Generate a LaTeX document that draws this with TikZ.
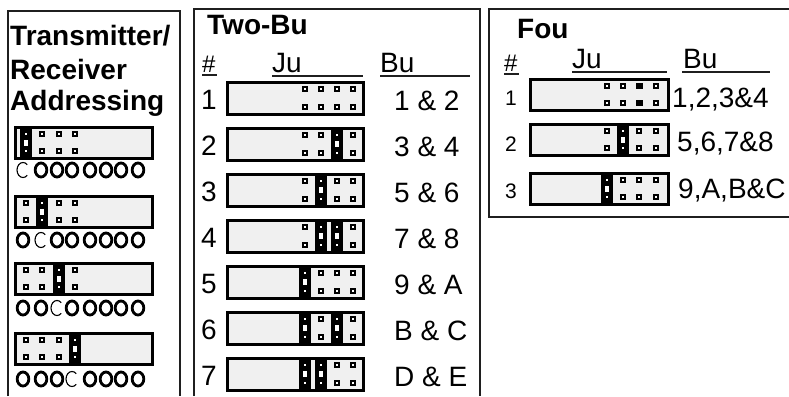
\documentclass[tikz,border=0pt]{standalone}
\usepackage{fontspec}
\setmainfont{Liberation Sans}
\tikzset{
  panel/.style={line width=2pt, draw=black!88},
  jfill/.style={fill=black!6},
  jframe/.style={draw=black, line width=3pt},
  uline/.style={line width=2pt, draw=black!88},
  led/.style={line width=2.8pt},
  ledoff/.style={line width=1.1pt},
  big/.style={font=\fontsize{28}{32}\selectfont, inner sep=0pt, anchor=base west},
  bigb/.style={font=\bfseries\fontsize{28}{32}\selectfont, inner sep=0pt, anchor=base west},
  mid/.style={font=\fontsize{24}{28}\selectfont, inner sep=0pt, anchor=base west},
  small/.style={font=\fontsize{21}{25}\selectfont, inner sep=0pt, anchor=base west},
}
% pin: black square with white centre
\newcommand{\jpin}[2]{\fill[black] (#1-3,#2-3) rectangle (#1+3,#2+3);
  \fill[white] (#1-1,#2-1) rectangle (#1+1,#2+1);}
\newcommand{\jfpin}[2]{\fill[black] (#1-3.5,#2-3) rectangle (#1+3.5,#2+3);}
% shunt bar: x centre, block top, block bottom
\newcommand{\jbar}[3]{\fill[black] (#1-6,#2) rectangle (#1+6,#3);
  \fill[white] (#1-1.2,#2+5.8) rectangle (#1+1.2,#2+8.2);
  \fill[white] (#1-1.2,#3-8.2) rectangle (#1+1.2,#3-5.8);
  \fill[white] ({#1-2},{(#2+#3)/2-3}) rectangle ({#1+2},{(#2+#3)/2+3});}
% slot: flag (0 pins, 1 bar, 2 filled pins), x, top, bottom
\newcommand{\jslot}[4]{\ifnum#1=1 \jbar{#2}{#3}{#4}\else\ifnum#1=2 \jfpin{#2}{#3+7}\jfpin{#2}{#4-7}\else\jpin{#2}{#3+7}\jpin{#2}{#4-7}\fi\fi}
% Two-Bu row
\newcommand{\tbrow}[5]{\fill[jfill] (227,#1) rectangle (363,#1+32);
  \jslot{#2}{305}{#1}{#1+32}\jslot{#3}{321}{#1}{#1+32}\jslot{#4}{337}{#1}{#1+32}\jslot{#5}{353}{#1}{#1+32}
  \draw[jframe] (227,#1) rectangle (363,#1+32);
  \draw[line width=1.5pt] (227,#1+33) -- (363,#1+33);}
% Fou row
\newcommand{\forow}[5]{\fill[jfill] (530,#1) rectangle (668,#1+31);
  \jslot{#2}{607}{#1}{#1+31}\jslot{#3}{623}{#1}{#1+31}\jslot{#4}{639}{#1}{#1+31}\jslot{#5}{656}{#1}{#1+31}
  \draw[jframe] (530,#1) rectangle (668,#1+31);}
% Left row
\newcommand{\lrow}[5]{\fill[jfill] (15,#1) rectangle (152,#1+31);
  \jslot{#2}{26}{#1}{#1+31}\jslot{#3}{42}{#1}{#1+31}\jslot{#4}{59}{#1}{#1+31}\jslot{#5}{75}{#1}{#1+31}
  \draw[jframe] (15,#1) rectangle (152,#1+31);}
% LED row: y centre, index of the dim one
\newcommand{\leds}[2]{\foreach \lx [count=\li] in {23,41,57,72,90,106,121,138}{
    \ifnum\li=#2
      \draw[ledoff] (\lx,#1) ++(45:6 and 7.5) arc[start angle=45,end angle=315,x radius=6,y radius=7.5];
    \else
      \draw[led] (\lx,#1) ellipse [x radius=5.8, y radius=7];
    \fi}}
\begin{document}
\begin{tikzpicture}[x=1pt,y=-1pt]
\useasboundingbox (0,0) rectangle (789,396);
% panels
\draw[panel] (8,396) -- (8,11) -- (180,11) -- (180,396);
\draw[panel] (194,396) -- (194,9) -- (480,9) -- (480,396);
\draw[panel] (789,9) -- (489,9) -- (489,217) -- (789,217);

% left panel
\node[bigb] (t1) at (10,46) {Transmitter/};
\node[bigb] (t2) at (10,79) {Receiver};
\node[bigb] (t3) at (10,110) {Addressing};
\lrow{127}{1}{0}{0}{0}
\leds{170}{1}
\lrow{196}{0}{1}{0}{0}
\leds{240}{2}
\lrow{263}{0}{0}{1}{0}
\leds{308}{3}
\lrow{333}{0}{0}{0}{1}
\leds{379}{4}

% Two-Bu panel
\node[bigb] (twot) at (207,35) {Two-Bu};
\node[mid] (twoh) at (202,72) {\#};
\draw[uline] (twoh.base west) ++(0,2.5) -- ++(15,0);
\node[big] (twoj) at (272,73) {Ju};
\draw[uline] (272,76) -- (363,76);
\node[big] (twob) at (380,73) {Bu};
\draw[uline] (380,76) -- (470,76);
\tbrow{82}{0}{0}{0}{0}
\tbrow{128}{0}{0}{1}{0}
\tbrow{174}{0}{1}{0}{0}
\tbrow{220}{0}{1}{1}{0}
\tbrow{266}{1}{0}{0}{0}
\tbrow{312}{1}{0}{1}{0}
\tbrow{358}{1}{1}{0}{0}
\foreach \tp/\nn/\lab [count=\k] in {82/1/{1 \& 2},128/2/{3 \& 4},174/3/{5 \& 6},220/4/{7 \& 8},266/5/{9 \& A},312/6/{B \& C},358/7/{D \& E}}{
  \node[big] (tn\k) at (201,\tp+27) {\nn};
  \node[big] (tl\k) at (394,\tp+28) {\lab};
}

% Fou panel
\node[bigb] (fout) at (517,38) {Fou};
\node[mid] (fouh) at (504,71) {\#};
\draw[uline] (fouh.base west) ++(0,2.5) -- ++(15,0);
\node[big] (fouj) at (572,68) {Ju};
\draw[uline] (572,72) -- (667,72);
\node[big] (foub) at (683,68) {Bu};
\draw[uline] (682,72) -- (770,72);
\forow{79}{0}{0}{2}{0}
\forow{124}{0}{1}{0}{0}
\forow{173}{1}{0}{0}{0}
\node[small] (fn1) at (505,105) {1};
\node[small] (fn2) at (505,151) {2};
\node[small] (fn3) at (505,198) {3};
\node[big] (fl1) at (672,107) {1,2,3\&4};
\node[big] (fl2) at (677,151) {5,6,7\&8};
\node[big] (fl3) at (678,198) {9,A,B\&C};
\end{tikzpicture}
\end{document}
